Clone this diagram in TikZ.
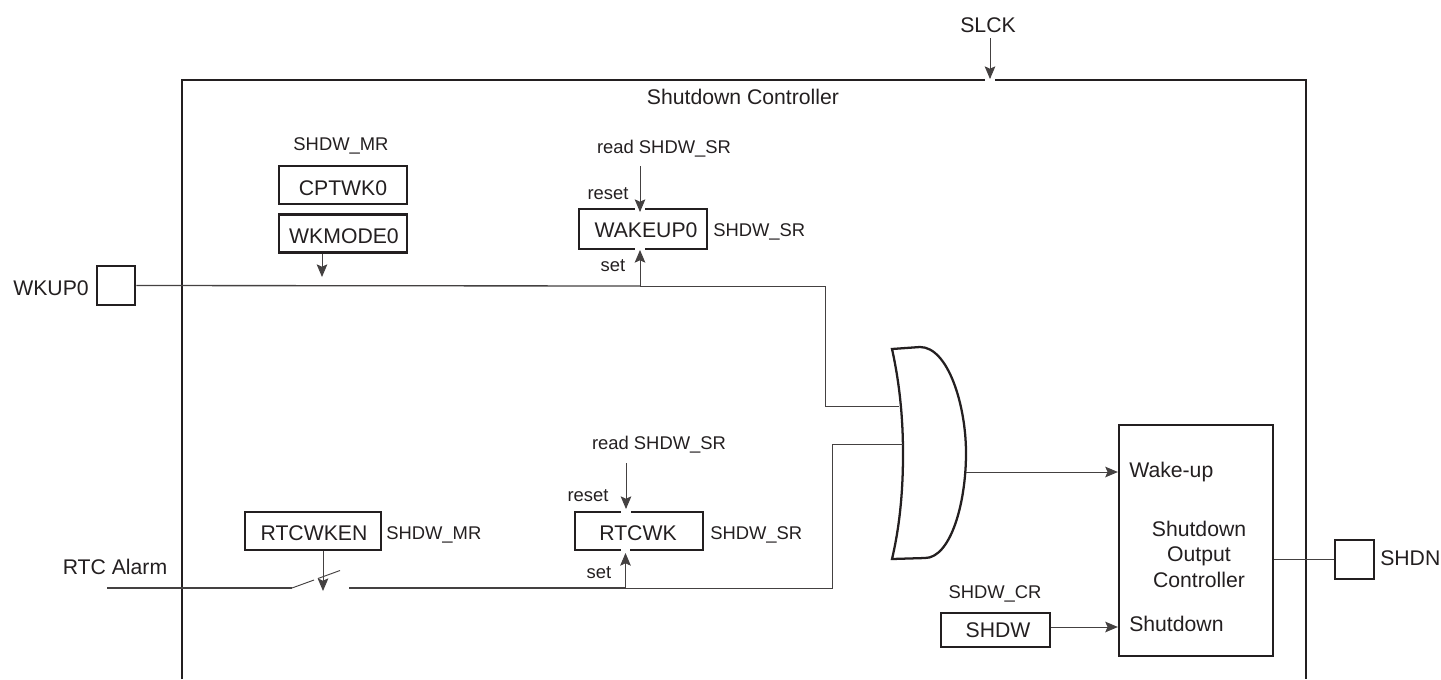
\documentclass[tikz,border=0pt]{standalone}
\usepackage{fontspec}
\setmainfont{Liberation Sans}
\usetikzlibrary{calc,arrows.meta,positioning}
\definecolor{inkblack}{RGB}{35,31,32}
\tikzset{
    % Registers and pads
    regbox/.style={
        draw=inkblack, line width=1.7pt, inner sep=0pt,
        minimum height=29pt, minimum width=96pt
    },
    padbox/.style={regbox, minimum width=29pt, minimum height=29pt},
    % Plain labels: small for register names, large for blocks
    lbl/.style={font=\fontsize{13.8}{19.2}\selectfont, text=inkblack, inner sep=0pt},
    leftlbl/.style={lbl, anchor=west},
    biglbl/.style={lbl, font=\fontsize{15.9}{19.1}\selectfont},
    bigleftlbl/.style={biglbl, anchor=west},
    % Connectors
    wire/.style={draw=inkblack!85, line width=0.7pt},
    heavywire/.style={wire, line width=1pt},
    sig/.style={wire, -{Stealth[length=9.5pt,width=8pt,inset=1.8pt]}},
    frame/.style={draw=inkblack, line width=1.7pt},
    notch/.style={draw=white, line width=2.5pt},
}
\begin{document}
\begin{tikzpicture}[x=0.75pt,y=-0.75pt]
  \useasboundingbox (0,0) rectangle (1441,679);
  % Outer frame, open at the bottom
  \draw[frame] (182,679) |- (1306,80) -- (1306,679);
  \node[biglbl] (title) at (743,97) {Shutdown Controller};
  \node[biglbl] (slck) at (988,25) {SLCK};
  % Wake-up input branch
  \node[lbl] (cptlbl) at (341,146) {SHDW\_MR};
  \node[regbox,minimum height=28.5pt] (cptwk) at (343,185) {};
  \node[biglbl] at (343,188) {CPTWK0};
  \node[regbox,minimum height=28.5pt] (wkmode) at (343,233.5) {};
  \node[biglbl] at (344,236) {WKMODE0};
  \node[lbl] (rdwake) at (664,149) {read SHDW\_SR};
  \node[lbl] (rstwake) at (608,194) {reset};
  \node[regbox,minimum height=30pt] (wakeup) at (643,229) {};
  \node[biglbl] at (646,230) {WAKEUP0};
  \node[leftlbl] (srwake) at (713,232) {SHDW\_SR};
  \node[lbl] (setwake) at (613,266) {set};
  \node[padbox] (wkpad) at (116,285.5) {};
  \node[biglbl,anchor=east] (wkuplbl) at (89,288) {WKUP0};
  % RTC input branch
  \node[lbl] (rdrtc) at (659,445) {read SHDW\_SR};
  \node[lbl] (rstrtc) at (588,496) {reset};
  \node[regbox] (rtcwk) at (639,531) {};
  \node[biglbl] at (638,533) {RTCWK};
  \node[leftlbl] (srrtc) at (710,535) {SHDW\_SR};
  \node[lbl] (setrtc) at (599,573) {set};
  \node[regbox,minimum width=102pt] (rtcen) at (313,531) {};
  \node[biglbl] at (314,533) {RTCWKEN};
  \node[leftlbl] (mrrtc) at (386,535) {SHDW\_MR};
  \node[biglbl] (alarm) at (115,567) {RTC Alarm};
  % Output side
  \node[regbox,minimum width=115.5pt,minimum height=173.25pt] (soc) at (1196,540.5) {};
  \node[bigleftlbl] (wakelbl) at (1129,472) {Wake-up};
  \node[biglbl,align=center] (soclbl) at (1199,554) {Shutdown\\Output\\Controller};
  \node[bigleftlbl] (sdlbl) at (1129,624) {Shutdown};
  \node[lbl] (crlbl) at (995,594) {SHDW\_CR};
  \node[regbox,minimum width=81.75pt,minimum height=25.5pt] (shdw) at (995.5,630) {};
  \node[biglbl] at (998,630) {SHDW};
  \node[padbox] (sdpad) at (1354.5,559.5) {};
  \node[bigleftlbl] (shdn) at (1380,558) {SHDN};
  % OR gate
  \draw[frame] (892,349) -- (920,347) .. controls (948,347) and (966,405) .. (966,453)
    .. controls (966,505) and (950,558) .. (925,558) -- (892,559)
    .. controls (900,525) and (903,490) .. (903,454)
    .. controls (903,420) and (900,385) .. (892,349) -- cycle;
  % Junctions and free ends
  \coordinate (in1) at (899,406);
  \coordinate (in2) at (903,444);
  \coordinate (out) at (966,472);
  \coordinate (setw) at (640,286);
  \coordinate (setr) at (625.5,588);
  \coordinate (alarmin) at (107,588);
  \coordinate (swa) at (292,588);
  \coordinate (swb) at (349,588);
  \coordinate (turn) at (832,588);
  % Gaps in the frames where the arrows land
  \foreach \tip in {{990,80},{640,209},{640,249},{626,512},{625.5,550}}
    \draw[notch] ([xshift=-3.5pt]\tip) -- ([xshift=3.5pt]\tip);
  % Connectors
  \draw[sig] (990,38) -- (990,79);
  \draw[heavywire] (wkpad.east) -- (setw);
  \draw[wire] (setw) -- (825,286) |- (in1);
  \draw[sig] (wkmode.south -| 322,0) -- (322,277);
  \draw[sig] (640,166) -- (640 ,212);
  \draw[sig] (setw) -- (640,250);
  \draw[heavywire] (alarmin) -- (swa);
  \draw[wire] (swa) -- (314,580);
  \draw[wire] (318,578.5) -- (340,570.5);
  \draw[sig] (rtcen.south -| 323,0) -- (323,591);
  \draw[heavywire] (swb) -- (setr);
  \draw[wire] (setr) -- (turn) |- (in2);
  \draw[sig] (626,463) -- (626,509);
  \draw[sig] (setr) -- (625.5,553);
  \draw[sig] (out) -- (soc.west |- out);
  \draw[sig] (shdw.east |- 0,627) -- (soc.west |- 0,627);
  \draw[wire] (soc.east |- sdpad) -- (sdpad.west);
\end{tikzpicture}
\end{document}
